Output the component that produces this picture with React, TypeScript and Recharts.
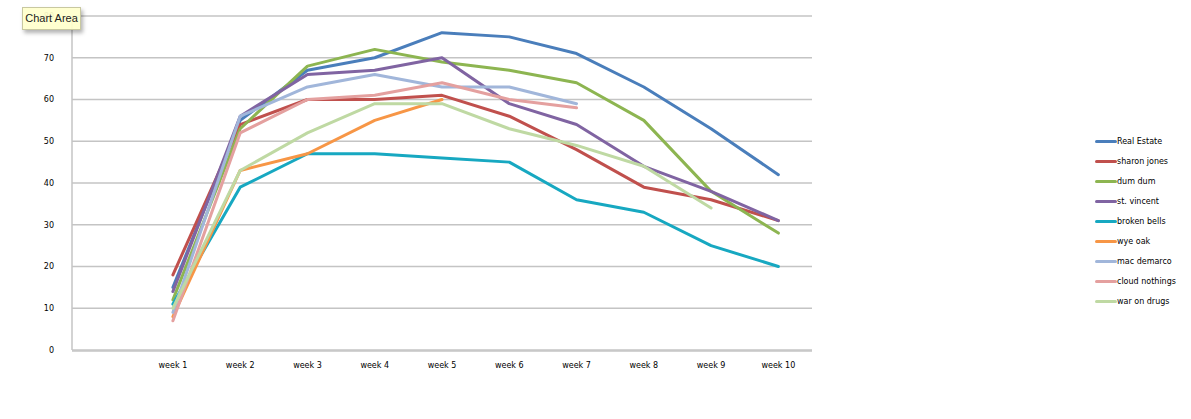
import React from "react";
import {
  CartesianGrid,
  Legend,
  Line,
  LineChart,
  XAxis,
  YAxis,
} from "recharts";

const weeks = ["", "week 1", "week 2", "week 3", "week 4", "week 5", "week 6", "week 7", "week 8", "week 9", "week 10"];
const realEstate = [null, 15, 55, 67, 70, 76, 75, 71, 63, 53, 42];
const sharonJones = [null, 18, 54, 60, 60, 61, 56, 48, 39, 36, 31];
const dumDum = [null, 12, 53, 68, 72, 69, 67, 64, 55, 38, 28];
const stVincent = [null, 14, 56, 66, 67, 70, 59, 54, 44, 38, 31];
const brokenBells = [null, 11, 39, 47, 47, 46, 45, 36, 33, 25, 20];
const wyeOak = [null, 8, 43, 47, 55, 60, null, null, null, null, null];
const macDemarco = [null, 9, 56, 63, 66, 63, 63, 59, null, null, null];
const cloudNothings = [null, 7, 52, 60, 61, 64, 60, 58, null, null, null];
const warOnDrugs = [null, 10, 43, 52, 59, 59, 53, 49, 44, 34, null];
const yTicks = [0, 10, 20, 30, 40, 50, 60, 70, 80];
const slotTicks = [0, 1, 2, 3, 4, 5, 6, 7, 8, 9, 10, 11];

const series = [
  { key: "Real Estate", values: realEstate, color: "#4a7ebb" },
  { key: "sharon jones", values: sharonJones, color: "#c0504d" },
  { key: "dum dum", values: dumDum, color: "#8db551" },
  { key: "st. vincent", values: stVincent, color: "#8064a2" },
  { key: "broken bells", values: brokenBells, color: "#17a8c1" },
  { key: "wye oak", values: wyeOak, color: "#f79646" },
  { key: "mac demarco", values: macDemarco, color: "#a1b6da" },
  { key: "cloud nothings", values: cloudNothings, color: "#e4a09f" },
  { key: "war on drugs", values: warOnDrugs, color: "#bfd9a3" },
];

const data = weeks.map((week, i) => {
  const row: Record<string, any> = { week };
  series.forEach((s) => {
    row[s.key] = s.values[i];
  });
  return row;
});

const font = "'DejaVu Sans', Verdana, sans-serif";

const renderLegend = () => (
  <div style={{ fontFamily: font, fontSize: 8, color: "#000" }}>
    {series.map((s) => (
      <div key={s.key} style={{ display: "flex", alignItems: "center", height: 20 }}>
        <div style={{ width: 22, height: 3, background: s.color, borderRadius: 1.5 }} />
        <span>{s.key}</span>
      </div>
    ))}
  </div>
);

export default function App() {
  return (
    <div style={{ position: "fixed", left: 0, top: 0, width: 1191, height: 419, background: "#fff" }}>
      <LineChart
        width={1191}
        height={419}
        data={data}
        margin={{ top: 16, right: 283, bottom: 0, left: 0 }}
      >
        <CartesianGrid vertical={false} stroke="#c4c4c4" strokeWidth={1.5} />
        {/* category axis sits at the plot edge, labels only */}
        <XAxis
          dataKey="week"
          scale="band"
          axisLine={false}
          tickLine={false}
          tickMargin={6}
          height={1}
          interval={0}
          tick={{ fontSize: 8, fontFamily: font, fill: "#000" }}
        />
        {/* boundary ticks between categories, like the Excel axis */}
        <XAxis
          xAxisId="slots"
          type="number"
          domain={[0, 11]}
          ticks={slotTicks}
          tick={false}
          tickSize={4}
          height={68}
          stroke="#c4c4c4"
          strokeWidth={1.5}
        />
        <YAxis
          domain={[0, 80]}
          ticks={yTicks}
          width={72}
          tickLine={false}
          tickMargin={12}
          stroke="#c4c4c4"
          strokeWidth={1.5}
          tick={{ fontSize: 8, fontFamily: font, fill: "#000" }}
        />
        <Legend
          layout="vertical"
          align="right"
          verticalAlign="top"
          content={renderLegend}
          wrapperStyle={{ left: 1095, top: 131, width: 96 }}
        />
        {series.map((s) => (
          <Line
            key={s.key}
            dataKey={s.key}
            stroke={s.color}
            strokeWidth={3}
            strokeLinecap="round"
            strokeLinejoin="round"
            dot={false}
            type="linear"
            isAnimationActive={false}
          />
        ))}
      </LineChart>
      <div
        style={{
          position: "absolute",
          left: 22,
          top: 7,
          width: 57,
          height: 21,
          background: "rgba(255,255,204,0.93)",
          border: "1px solid #c8c8a0",
          boxShadow: "2px 3px 4px rgba(0,0,0,0.3)",
          fontFamily: "'Liberation Sans', Arial, sans-serif",
          fontSize: 11,
          lineHeight: "21px",
          textAlign: "center",
          color: "#222",
        }}
      >
        Chart Area
      </div>
    </div>
  );
}
